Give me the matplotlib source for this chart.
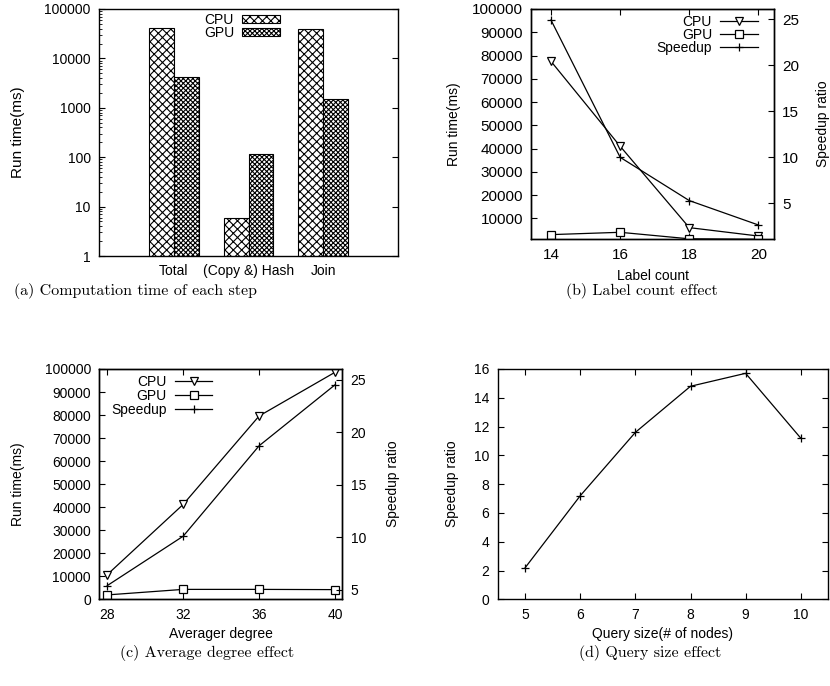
import matplotlib
matplotlib.use("Agg")
import matplotlib.pyplot as plt
from matplotlib.patches import Patch
import numpy as np

# (a) computation time of each step
STEPS = ["Total", "(Copy &) Hash", "Join"]
CPU_STEP = [40500, 6, 39000]
GPU_STEP = [4200, 118, 1500]

# (b) label count effect
LABEL_COUNTS = [14, 16, 18, 20]
CPU_LABEL = [77500, 41000, 6000, 2400]
GPU_LABEL = [3000, 4000, 1200, 1000]
SPEEDUP_LABEL = [24.9, 10.0, 5.3, 2.65]

# (c) average degree effect
DEGREES = [28, 32, 36, 40]
CPU_DEGREE = [10700, 41200, 79600, 98600]
GPU_DEGREE = [1900, 4300, 4300, 4200]
SPEEDUP_DEGREE = [5.4, 10.1, 18.7, 24.5]

# (d) query size effect
QUERY_SIZES = [5, 6, 7, 8, 9, 10]
SPEEDUP_QUERY = [2.2, 7.2, 11.6, 14.8, 15.7, 11.2]

plt.rcParams["font.family"] = ["Liberation Sans", "DejaVu Sans"]
plt.rcParams["font.size"] = 10
plt.rcParams["hatch.linewidth"] = 0.8
plt.rcParams["axes.linewidth"] = 1.0

LW = 0.9
MS = 6
line_kw = dict(color="black", lw=LW, mfc="white", mec="black", ms=MS, mew=0.9)


def style(ax, right=True, size=10):
    ax.tick_params(direction="in", top=True, right=right, length=4, pad=6, labelsize=size)
    ax.tick_params(which="minor", direction="in", length=2)


def legend(ax, handles, labels, anchor, loc, handleheight=0.7, spacing=-0.05):
    ax.legend(handles, labels, loc=loc, bbox_to_anchor=anchor, frameon=False,
              markerfirst=False, handlelength=2.7, handletextpad=0.6,
              labelspacing=spacing, borderpad=0, borderaxespad=0,
              handleheight=handleheight, fontsize=10)


fig = plt.figure(figsize=(8.3, 6.86), dpi=100)

# ---- (a)
ax = fig.add_axes([0.1193, 0.6268, 0.3602, 0.3601])
x = np.arange(1, len(STEPS) + 1)
w = 1 / 3
ax.bar(x - w / 2, CPU_STEP, w, color="white", edgecolor="black", hatch="xxxx", lw=0.8)
ax.bar(x + w / 2, GPU_STEP, w, color="white", edgecolor="black", hatch="xxxxxxx", lw=0.8)
ax.set_yscale("log")
ax.set_ylim(1, 100000)
ax.set_xlim(0, 4)
ax.set_yticks([1, 10, 100, 1000, 10000, 100000])
ax.set_yticklabels(["1", "10", "100", "1000", "10000", "100000"])
ax.set_xticks(x)
ax.set_xticklabels(STEPS)
style(ax)
ax.tick_params(axis="x", length=0, top=False)
ax.set_ylabel("Run time(ms)", fontsize=11, labelpad=14)
legend(ax,
       [Patch(facecolor="white", edgecolor="black", hatch="xxxx", lw=0.8),
        Patch(facecolor="white", edgecolor="black", hatch="xxxxxxx", lw=0.8)],
       ["CPU", "GPU"], anchor=(0.605, 0.985), loc="upper right", handleheight=0.55)

# ---- (b)
ax = fig.add_axes([0.6401, 0.6512, 0.2924, 0.3357])
ax2 = ax.twinx()
l1, = ax.plot(LABEL_COUNTS, CPU_LABEL, marker="v", **line_kw)
l2, = ax.plot(LABEL_COUNTS, GPU_LABEL, marker="s", **line_kw)
l3, = ax2.plot(LABEL_COUNTS, SPEEDUP_LABEL, marker="+", **line_kw)
ax.set_xlim(13.43, 20.45)
ax.set_ylim(1000, 100000)
ax.set_yticks(range(10000, 100001, 10000))
ax.set_xticks(LABEL_COUNTS)
ax2.set_ylim(1.1, 26.1)
ax2.set_yticks([5, 10, 15, 20, 25])
style(ax, right=False, size=11)
ax2.tick_params(direction="in", length=4, pad=6, labelsize=11)
ax.set_xlabel("Label count", labelpad=5)
ax.set_ylabel("Run time(ms)", labelpad=8)
ax2.set_ylabel("Speedup ratio", labelpad=12)
legend(ax2, [l1, l2, l3], ["CPU", "GPU", "Speedup"], anchor=(0.934, 0.975), loc="upper right")

# ---- (c)
ax = fig.add_axes([0.1196, 0.1264, 0.2928, 0.3357])
ax2 = ax.twinx()
l1, = ax.plot(DEGREES, CPU_DEGREE, marker="v", **line_kw)
l2, = ax.plot(DEGREES, GPU_DEGREE, marker="s", **line_kw)
l3, = ax2.plot(DEGREES, SPEEDUP_DEGREE, marker="+", **line_kw)
ax.set_xlim(27.58, 40.38)
ax.set_ylim(0, 100000)
ax.set_yticks(range(0, 100001, 10000))
ax.set_xticks(DEGREES)
ax2.set_ylim(4.1, 26)
ax2.set_yticks([5, 10, 15, 20, 25])
style(ax, right=False)
ax2.tick_params(direction="in", length=4, pad=6, labelsize=10)
ax.set_xlabel("Averager degree", labelpad=4)
ax.set_ylabel("Run time(ms)", labelpad=14)
ax2.set_ylabel("Speedup ratio", labelpad=14)
legend(ax2, [l1, l2, l3], ["CPU", "GPU", "Speedup"], anchor=(0.465, 0.975), loc="upper right",
       spacing=0.0)

# ---- (d)
ax = fig.add_axes([0.5996, 0.1264, 0.3983, 0.3357])
ax.plot(QUERY_SIZES, SPEEDUP_QUERY, marker="+", **line_kw)
ax.set_xlim(4.5, 10.5)
ax.set_ylim(0, 16)
ax.set_xticks(QUERY_SIZES)
ax.set_yticks(range(0, 17, 2))
style(ax)
ax.set_xlabel("Query size(# of nodes)", labelpad=4)
ax.set_ylabel("Speedup ratio", labelpad=11)

# ---- captions
cap = dict(family="cmr10", fontsize=11.5, ha="center", va="center")
fig.text(0.1627, 0.576, "(a) Computation time of each step", **cap)
fig.text(0.7735, 0.576, "(b) Label count effect", **cap)
fig.text(0.2494, 0.048, "(c) Average degree effect", **cap)
fig.text(0.783, 0.048, "(d) Query size effect", **cap)

fig.savefig("out.png", dpi=100)
